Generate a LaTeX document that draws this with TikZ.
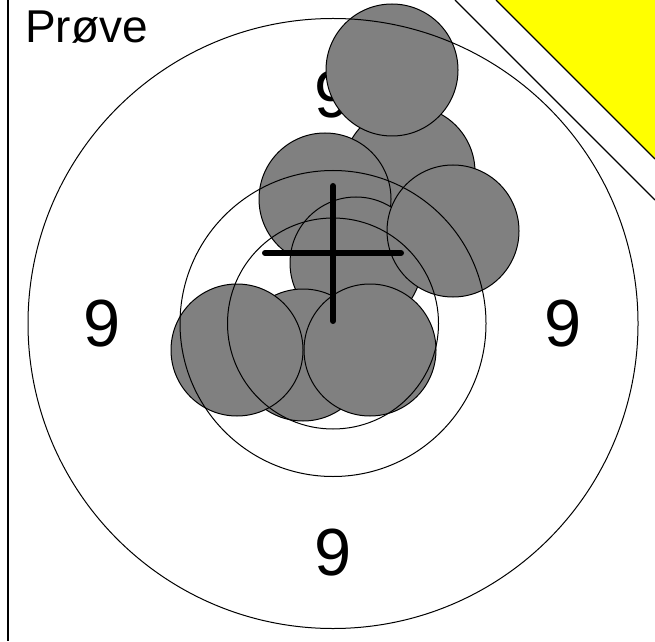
\documentclass[tikz,border=0pt]{standalone}
\usepackage{fontspec}
\setmainfont{Liberation Sans}
\usetikzlibrary{positioning}
\definecolor{ShotGray}{RGB}{128,128,128}
\definecolor{FlagYellow}{RGB}{255,255,0}
\tikzset{
  shotdisc/.style={circle,draw=black,fill=ShotGray,line width=0.75pt,inner sep=0pt,minimum size=99pt},
  ring/.style={draw=black,line width=0.75pt},
  ringnum/.style={inner sep=0pt,font=\fontsize{50}{60}\selectfont},
  crossbar/.style={black,line width=4.5pt,line cap=round},
  edgeline/.style={draw=black,line width=0.9pt},
}

\begin{document}
\begin{tikzpicture}[x=0.75pt,y=-0.75pt]
    \useasboundingbox (0,0) rectangle (655,641);
    \coordinate (centre) at (333,323.5);
    \node[inner sep=0pt,anchor=base west,font=\fontsize{34.5}{40}\selectfont] (title) at (25,43) {Prøve};
    \draw[edgeline] (8,0) -- (8,641);
    \draw[edgeline] (455,0) -- (655,200);
    \fill[FlagYellow] (496,0) -- (655,0) -- (655,159) -- cycle;
    \draw[edgeline] (496,0) -- (655,159);
    \node[ringnum] (nineT) at (333,95) {9};
    \node[ringnum] (nineL) at (102,324) {9};
    \node[ringnum] (nineR) at (563,324) {9};
    \node[ringnum] (nineB) at (333,553) {9};
    \node[shotdisc] (shot1) at (409,172) {};
    \node[shotdisc] (shot2) at (392,70) {};
    \node[shotdisc] (shot3) at (325,199) {};
    \node[shotdisc] (shot4) at (356,263) {};
    \node[shotdisc] (shot5) at (453,231) {};
    \node[shotdisc] (shot6) at (303,355) {};
    \node[shotdisc] (shot7) at (237,350) {};
    \node[shotdisc] (shot8) at (370,350) {};
    \draw[ring] (centre) circle[radius=305];
    \draw[ring] (centre) circle[radius=153];
    \draw[ring] (centre) circle[radius=105.5];
    \coordinate (crossW) at (265,253);
    \coordinate (crossE) at (401,253);
    \coordinate (crossN) at (333,186);
    \coordinate (crossS) at (333,321);
    \draw[crossbar] (crossW) -- (crossE);
    \draw[crossbar] (crossN) -- (crossS);
\end{tikzpicture}
\end{document}
